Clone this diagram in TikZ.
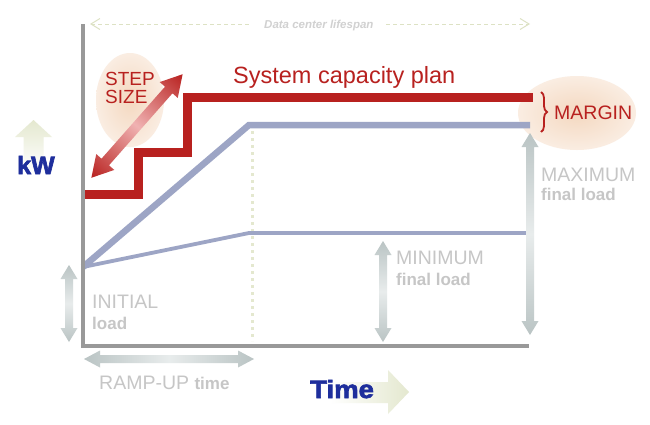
\documentclass[tikz,border=0pt]{standalone}
\usepackage{fontspec}
\setmainfont{Liberation Sans}
\newfontfamily\heavyfont[FakeBold=2.5]{Liberation Sans Bold}
\usetikzlibrary{arrows.meta,decorations.pathreplacing,shadings}

\definecolor{capred}{HTML}{B8211F}
\definecolor{capredlight}{HTML}{F0B2B2}
\definecolor{loadblue}{HTML}{9DA5C5}
\definecolor{axisgray}{HTML}{999999}
\definecolor{labelgray}{HTML}{C6C6C6}
\definecolor{palegreen}{HTML}{E4E8CF}
\definecolor{dashgreen}{HTML}{DDE2C4}
\definecolor{peach}{HTML}{F4D8C0}
\definecolor{peachlight}{HTML}{FAEDE2}
\definecolor{arrowgray}{HTML}{BAC4C4}
\definecolor{arrowlight}{HTML}{E8ECEC}
\definecolor{kwblue}{HTML}{1E2E9C}

\newcommand{\vdarrow}[3]{%
  \shade[top color=arrowgray, bottom color=arrowgray, middle color=arrowlight]
    (#1,#2) -- ++(8.5,14) -- ++(-4.5,0) -- (#1+4,#3-14) -- ++(4.5,0) -- (#1,#3)
    -- ++(-8.5,-14) -- ++(4.5,0) -- (#1-4,#2+14) -- ++(-4.5,0) -- cycle;}

\tikzset{
  graylbl/.style={anchor=base west, inner sep=0pt, text=labelgray, font=\fontsize{19.5}{20}\selectfont},
  graybold/.style={anchor=base west, inner sep=0pt, text=labelgray, font=\fontsize{17}{18}\selectfont\bfseries},
  redlbl/.style={anchor=base west, inner sep=0pt, text=capred},
  bigblue/.style={anchor=base west, inner sep=0pt, text=kwblue, font=\fontsize{25}{26}\selectfont\heavyfont},
  axisline/.style={draw=axisgray, line width=3.5pt},
}

\begin{document}
\begin{tikzpicture}[x=1pt,y=-1pt]
\useasboundingbox[fill=white] (0,0) rectangle (650,424);

% highlight ellipses
\shade[inner color=peach, outer color=peachlight] (130,100) ellipse [x radius=34, y radius=47];
\shade[inner color=peach, outer color=peachlight] (577,113) ellipse [x radius=59, y radius=37];

% lifespan dashed arrow
\coordinate (lsL) at (90,24);
\coordinate (lsLe) at (252,24);
\coordinate (lsRs) at (386,24);
\coordinate (lsR) at (530,24);
\draw[dashgreen, line width=1pt, dash pattern=on 4pt off 3pt, {Straight Barb[length=9pt,width=11pt]}-] (lsL) -- (lsLe);
\draw[dashgreen, line width=1pt, dash pattern=on 4pt off 3pt, -{Straight Barb[length=9pt,width=11pt]}] (lsRs) -- (lsR);
\node[anchor=base west, inner sep=0pt, text=labelgray!80, font=\fontsize{11.5}{12}\selectfont\bfseries\itshape] (lifespan) at (264,28) {Data center lifespan};

% dotted ramp-up boundary
\coordinate (dotT) at (252,131);
\coordinate (dotB) at (252,341);
\draw[palegreen, line width=3pt, dash pattern=on 3pt off 4pt] (dotT) -- (dotB);

% load lines
\coordinate (start) at (83,267);
\coordinate (maxC) at (249,125);
\coordinate (maxE) at (530,125);
\coordinate (minC) at (249,233);
\coordinate (minE) at (529,233);
\draw[loadblue, line width=6.5pt, line join=miter] (start) -- (maxC) -- (maxE);
\draw[loadblue, line width=3.8pt, line join=miter] (start) -- (minC) -- (minE);

% capacity plan
\coordinate (c0) at (83,194);
\coordinate (c1) at (138,194);
\coordinate (c2) at (138,152);
\coordinate (c3) at (187.5,152);
\coordinate (c4) at (187.5,97.5);
\coordinate (c5) at (533,97.5);
\draw[capred, line width=9pt, line join=miter] (c0) -- (c1) -- (c2) -- (c3) -- (c4) -- (c5);

% axes
\coordinate (origin) at (83,346);
\coordinate (ytop) at (83,24);
\coordinate (xend) at (529,346);
\draw[axisline] (ytop) -- (origin) -- (xend);

% step size double arrow
\begin{scope}[transform canvas={shift={(137,126)}, rotate=48.6}]
\shade[left color=capred, right color=capred, middle color=capredlight]
  (-69,0) -- (-48,12) -- (-48,5) -- (48,5) -- (48,12) -- (69,0) -- (48,-12) -- (48,-5) -- (-48,-5) -- (-48,-12) -- cycle;
\end{scope}

% labels
\node[redlbl, font=\fontsize{23.5}{24}\selectfont] (plan) at (233,83) {System capacity plan};
\node[redlbl, font=\fontsize{19}{19}\selectfont] (step) at (105,85) {STEP};
\node[redlbl, font=\fontsize{19}{19}\selectfont] (size) at (105,103) {SIZE};

\coordinate (brT) at (541,92);
\coordinate (brB) at (541,132);
\draw[capred, line width=1.8pt, decorate, decoration={brace, amplitude=6pt}] (brT) -- (brB);
\node[redlbl, font=\fontsize{19.5}{20}\selectfont] (margin) at (554,119) {MARGIN};

% gray double arrows
\vdarrow{530}{133}{335}
\vdarrow{383}{241}{342}
\vdarrow{69}{265}{342}
\shade[left color=arrowgray, right color=arrowgray, middle color=arrowlight]
  (84,359) -- (100,350.5) -- (100,355) -- (238,355) -- (238,350.5) -- (254,359)
  -- (238,367.5) -- (238,363) -- (100,363) -- (100,367.5) -- cycle;

\node[graylbl] (maxA) at (541,181) {MAXIMUM};
\node[graybold] (maxB) at (541,200) {final load};
\node[graylbl] (minA) at (396,264) {MINIMUM};
\node[graybold] (minB) at (396,285) {final load};
\node[graylbl] (iniA) at (92,308) {INITIAL};
\node[graybold] (iniB) at (92,329) {load};
\node[graylbl] (ramp) at (99,389) {RAMP-UP \fontsize{17}{18}\selectfont\bfseries time};

% kW and Time
\shade[top color=palegreen, bottom color=white]
  (33.5,120) -- (52,137) -- (43.5,137) -- (43.5,170) -- (23.5,170) -- (23.5,137) -- (15,137) -- cycle;
\shade[left color=white, right color=palegreen]
  (330,382) -- (388,382) -- (388,370) -- (409,392) -- (388,414) -- (388,403) -- (330,403) -- cycle;
\node[bigblue] (kw) at (17,174) {kW};
\node[bigblue, xscale=1.1] (time) at (310,398) {Time};
\end{tikzpicture}
\end{document}
